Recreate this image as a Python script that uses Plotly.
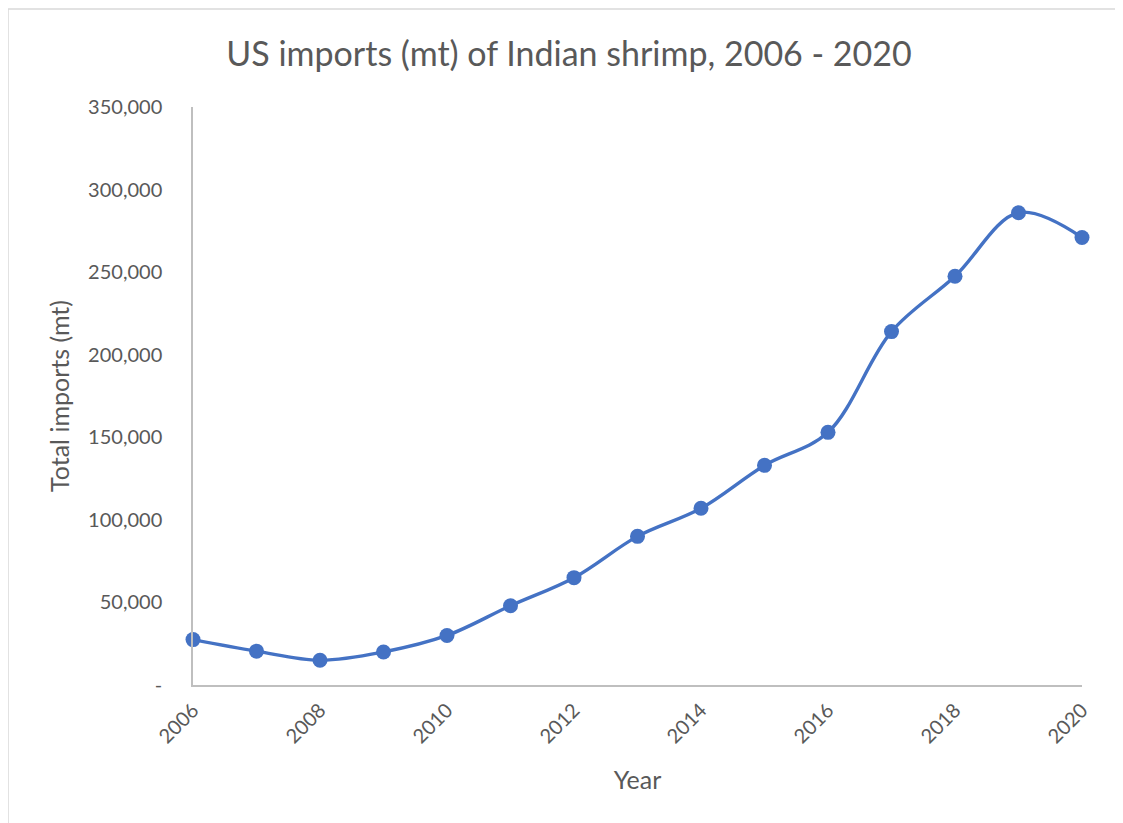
import plotly.graph_objects as go

years = list(range(2006, 2021))
imports_mt = [27500, 20500, 15000, 20000, 30000, 48000, 65000, 90000,
              107000, 133000, 153000, 214000, 247500, 286000, 271000]

y_ticks = [0, 50000, 100000, 150000, 200000, 250000, 300000, 350000]
y_tick_text = ['-', '50,000', '100,000', '150,000', '200,000', '250,000', '300,000', '350,000']
x_ticks = [2006, 2008, 2010, 2012, 2014, 2016, 2018, 2020]

txt = '#595959'
axis_col = '#BFBFBF'
font_fam = 'Lato, Open Sans, sans-serif'

# page has an 8px body margin, so the figure is drawn 8px smaller
W, H = 1115, 815
L, T = 185, 99
R, B = 41, 138

trace = go.Scatter(
    x=years, y=imports_mt,
    mode='lines+markers',
    line=dict(color='#4472C4', width=3.4, shape='spline', smoothing=1.0),
    marker=dict(color='#4472C4', size=15),
    cliponaxis=False,
    showlegend=False,
)

fig = go.Figure(trace)
fig.update_layout(
    width=W, height=H,
    plot_bgcolor='white', paper_bgcolor='white',
    font=dict(family=font_fam, color=txt, size=20),
    title=dict(text='US imports (mt) of Indian shrimp, 2006 - 2020',
               x=(569 - 8) / W, xanchor='center',
               y=1 - 46 / H, yanchor='middle',
               font=dict(size=34, color=txt, family=font_fam)),
    margin=dict(l=L, r=R, t=T, b=B),
)
fig.update_xaxes(
    range=[2006, 2020], tickvals=x_ticks, tickangle=-45,
    showgrid=False, zeroline=False,
    showline=True, linecolor=axis_col, linewidth=1.5,
    ticks='', ticklabelstandoff=4,
    title=dict(text='Year', font=dict(size=25), standoff=25),
)
fig.update_yaxes(
    range=[0, 350000], tickvals=y_ticks, ticktext=y_tick_text,
    showgrid=False, zeroline=False,
    showline=True, linecolor=axis_col, linewidth=1.5,
    ticks='', ticklabelstandoff=25,
    title=dict(text='Total imports (mt)', font=dict(size=25), standoff=11),
)

# outer chart border (only top/left visible in the crop)
pw, ph = W - L - R, H - T - B
fig.add_shape(type='rect', xref='paper', yref='paper',
              x0=-L / pw, x1=(W + 20 - L) / pw,
              y0=-(B + 20) / ph, y1=(ph + T - 1) / ph,
              line=dict(color='#D9D9D9', width=1.5), layer='below')

fig.write_html("out.html")
